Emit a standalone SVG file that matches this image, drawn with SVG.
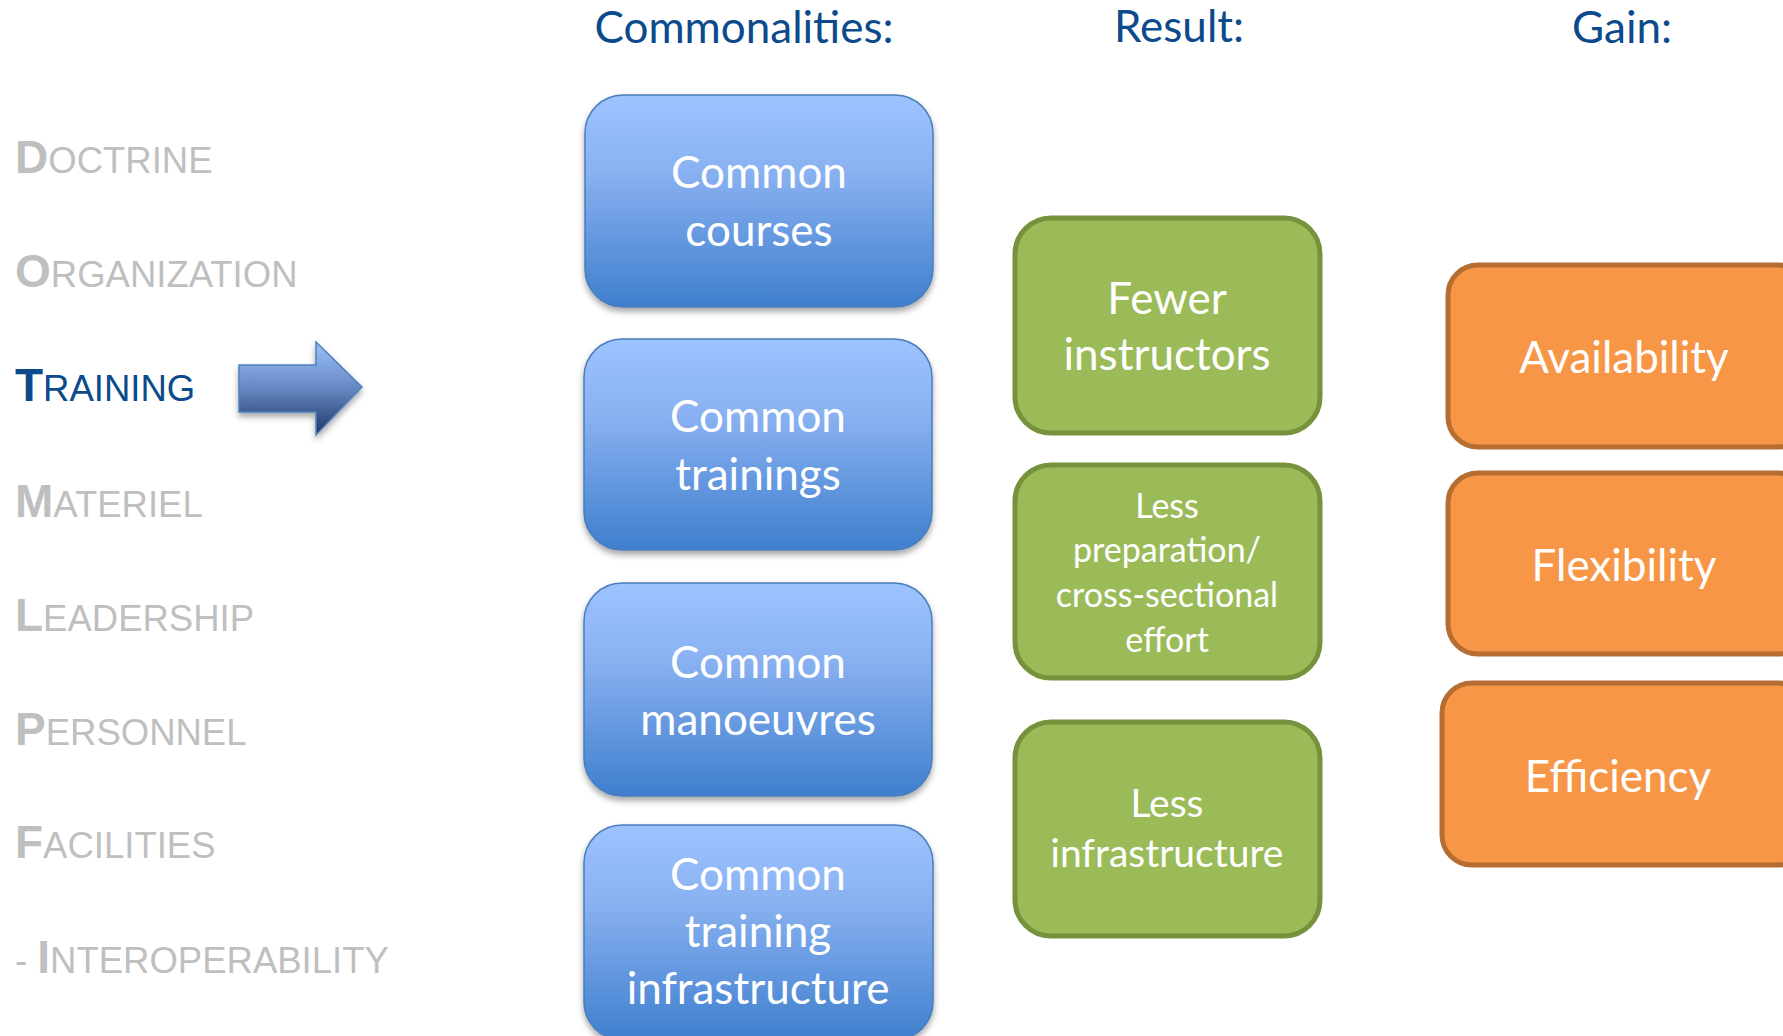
<svg xmlns="http://www.w3.org/2000/svg" width="1783" height="1036" viewBox="0 0 1783 1036">
<defs>
<linearGradient id="gBlue" x1="0" y1="0" x2="0" y2="1">
<stop offset="0" stop-color="#9DC3FF"/>
<stop offset="0.35" stop-color="#8AB2F2"/>
<stop offset="1" stop-color="#3F7FCD"/>
</linearGradient>
<linearGradient id="gArrow" x1="0" y1="0" x2="0" y2="1">
<stop offset="0" stop-color="#9CC2FA"/>
<stop offset="0.5" stop-color="#6688C2"/>
<stop offset="1" stop-color="#1C3564"/>
</linearGradient>
<filter id="shadow" x="-10%" y="-10%" width="120%" height="130%">
<feDropShadow dx="0" dy="4" stdDeviation="3" flood-color="#000" flood-opacity="0.35"/>
</filter>
</defs>
<style>
.lbl{font-family:"Liberation Sans",Arial,sans-serif;fill:#BFBFBF}
.lbl .cap{font-size:46px;font-weight:bold}
.lbl .sm{font-size:36.5px}
.lbl.on{fill:#0B4A8B}
.hdr{font-family:Lato,"Open Sans",sans-serif;font-size:44px;fill:#0B4A8B;text-anchor:middle}
.blue{fill:url(#gBlue);stroke:#4A7EBB;stroke-width:1.5;filter:url(#shadow)}
.green{fill:#9BBB59;stroke:#76923C;stroke-width:5}
.orange{fill:#F79646;stroke:#B66D31;stroke-width:5}
.t{font-family:Lato,"Open Sans",sans-serif;fill:#FFFFFF;text-anchor:middle;font-size:44px}
.ts{font-size:34px}
.tm{font-size:39px}
</style>
<rect width="1783" height="1036" fill="#FFFFFF"/>

<g id="labels">
<text class="lbl" x="15" y="173"><tspan class="cap">D</tspan><tspan class="sm">OCTRINE</tspan></text>
<text class="lbl" x="15" y="287"><tspan class="cap">O</tspan><tspan class="sm">RGANIZATION</tspan></text>
<text class="lbl on" x="15" y="401"><tspan class="cap">T</tspan><tspan class="sm">RAINING</tspan></text>
<text class="lbl" x="15" y="517"><tspan class="cap">M</tspan><tspan class="sm">ATERIEL</tspan></text>
<text class="lbl" x="15" y="631"><tspan class="cap">L</tspan><tspan class="sm">EADERSHIP</tspan></text>
<text class="lbl" x="15" y="745"><tspan class="cap">P</tspan><tspan class="sm">ERSONNEL</tspan></text>
<text class="lbl" x="15" y="858"><tspan class="cap">F</tspan><tspan class="sm">ACILITIES</tspan></text>
<text class="lbl" x="15" y="973"><tspan class="sm">- </tspan><tspan class="cap">I</tspan><tspan class="sm">NTEROPERABILITY</tspan></text>
</g>

<g id="connectors">
<polygon id="arrow" points="239,365 316,365 316,342 362,387 316,435 316,412 239,412" fill="url(#gArrow)" stroke="#4F81BD" stroke-width="1.5" filter="url(#shadow)"/>
</g>

<g id="headers">
<text class="hdr" x="744" y="43">Commonalities:</text>
<text class="hdr" x="1179" y="42">Result:</text>
<text class="hdr" x="1622" y="43">Gain:</text>
</g>

<g id="common-courses">
<rect class="blue" x="585" y="95" width="348" height="212" rx="38"/>
<text class="t" x="759" y="188">Common</text>
<text class="t" x="759" y="246">courses</text>
</g>
<g id="common-trainings">
<rect class="blue" x="584" y="339" width="348" height="211" rx="38"/>
<text class="t" x="758" y="432">Common</text>
<text class="t" x="758" y="490">trainings</text>
</g>
<g id="common-manoeuvres">
<rect class="blue" x="584" y="583" width="348" height="213" rx="38"/>
<text class="t" x="758" y="678">Common</text>
<text class="t" x="758" y="735">manoeuvres</text>
</g>
<g id="common-training-infrastructure">
<rect class="blue" x="584" y="825" width="349" height="215" rx="38"/>
<text class="t" x="758" y="890">Common</text>
<text class="t" x="758" y="947">training</text>
<text class="t" x="758" y="1004">infrastructure</text>
</g>

<g id="fewer-instructors">
<rect class="green" x="1015" y="218" width="305" height="215" rx="36"/>
<text class="t" x="1167" y="314">Fewer</text>
<text class="t" x="1167" y="370">instructors</text>
</g>
<g id="less-preparation">
<rect class="green" x="1015" y="465" width="305" height="213" rx="36"/>
<text class="t ts" x="1167" y="518">Less</text>
<text class="t ts" x="1167" y="562">preparation/</text>
<text class="t ts" x="1167" y="607">cross-sectional</text>
<text class="t ts" x="1167" y="652">effort</text>
</g>
<g id="less-infrastructure">
<rect class="green" x="1015" y="722" width="305" height="214" rx="36"/>
<text class="t tm" x="1167" y="817">Less</text>
<text class="t tm" x="1167" y="867">infrastructure</text>
</g>

<g id="availability">
<rect class="orange" x="1448" y="265" width="360" height="182" rx="30"/>
<text class="t" x="1624" y="373">Availability</text>
</g>
<g id="flexibility">
<rect class="orange" x="1448" y="473" width="360" height="181" rx="30"/>
<text class="t" x="1624" y="581">Flexibility</text>
</g>
<g id="efficiency">
<rect class="orange" x="1442" y="683" width="366" height="182" rx="30"/>
<text class="t" x="1618" y="792">Efficiency</text>
</g>
</svg>
